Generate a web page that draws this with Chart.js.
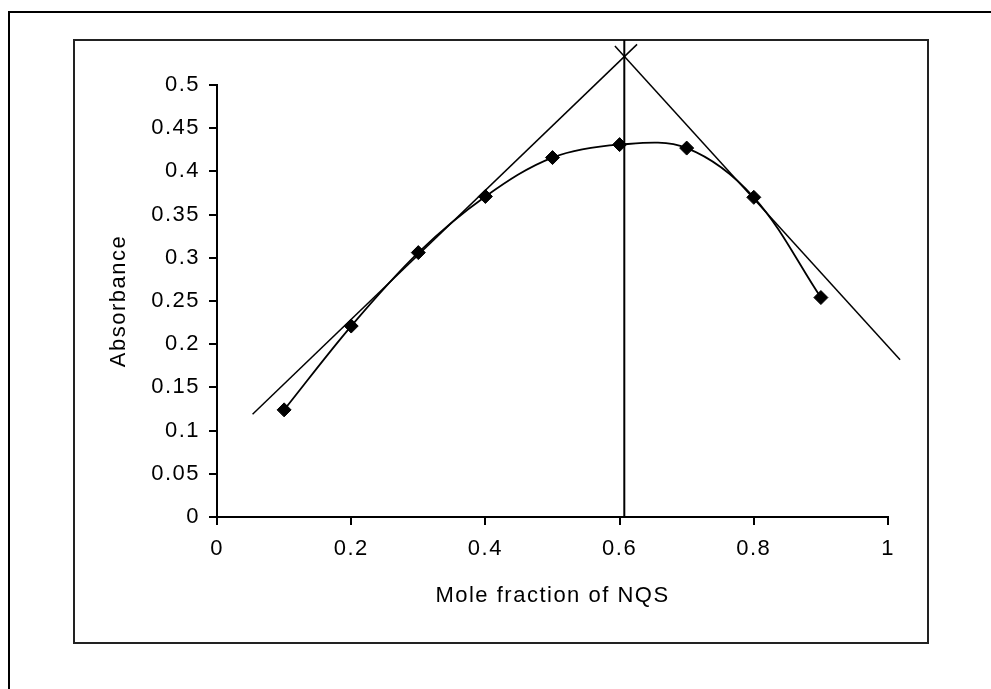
<!DOCTYPE html>
<html>
<head>
<meta charset="utf-8">
<style>
  html, body { margin: 0; padding: 0; background: #fff; }
  #wrap { position: absolute; left: 0; top: 0; width: 991px; height: 689px; }
</style>
<script src="https://cdn.jsdelivr.net/npm/chart.js@4/dist/chart.umd.min.js"></script>
</head>
<body>
<div id="wrap"><canvas id="c" width="991" height="689"></canvas></div>
<script>
// ---- data ----
const moleFraction = [0.1, 0.2, 0.3, 0.4, 0.5, 0.6, 0.7, 0.8, 0.9];
const absorbance   = [0.124, 0.221, 0.306, 0.371, 0.416, 0.431, 0.427, 0.370, 0.254];

// tangent lines (end points) and vertical line at the intersection
const tangentLeftX  = [0.053, 0.626];
const tangentLeftY  = [0.119, 0.547];
const tangentRightX = [0.593, 1.018];
const tangentRightY = [0.545, 0.182];
const verticalX = [0.607, 0.607];
const verticalY = [0, 0.552];

const xTicks = [0, 0.2, 0.4, 0.6, 0.8, 1];
const xTickLabels = ['0', '0.2', '0.4', '0.6', '0.8', '1'];
const yTicks = [0, 0.05, 0.1, 0.15, 0.2, 0.25, 0.3, 0.35, 0.4, 0.45, 0.5];
const yTickLabels = ['0', '0.05', '0.1', '0.15', '0.2', '0.25', '0.3', '0.35', '0.4', '0.45', '0.5'];

const xTitle = 'Mole fraction of NQS';
const yTitle = 'Absorbance';

const pts = (xs, ys) => xs.map((x, i) => ({x: x, y: ys[i]}));

const FONT = {family: '"Liberation Sans", Arial, sans-serif', size: 22};
const SPACING = '1.5px';

const framePlugin = {
  id: 'frame',
  beforeDraw(chart) {
    const ctx = chart.ctx;
    ctx.save();
    ctx.fillStyle = '#fff';
    ctx.fillRect(0, 0, chart.width, chart.height);
    // outer border (left + top visible)
    ctx.fillStyle = '#000';
    ctx.fillRect(8, 11, 2, chart.height);
    ctx.fillRect(8, 11, chart.width, 2);
    // inner chart box
    ctx.strokeStyle = '#222';
    ctx.lineWidth = 2;
    ctx.strokeRect(74, 40, 854, 603);
    ctx.restore();
    ctx.letterSpacing = SPACING;
  },
  beforeDatasetsDraw(chart) { chart.ctx.letterSpacing = '0px'; },
  afterDatasetsDraw(chart) { chart.ctx.letterSpacing = SPACING; }
};

new Chart(document.getElementById('c'), {
  type: 'line',
  data: {
    datasets: [
      {
        label: 'Absorbance',
        data: pts(moleFraction, absorbance),
        borderColor: '#000',
        borderWidth: 1.8,
        backgroundColor: '#000',
        pointStyle: 'rectRot',
        pointRadius: 7,
        pointBorderWidth: 1,
        pointBorderColor: '#000',
        pointBackgroundColor: '#000',
        tension: 0.35,
        fill: false,
        clip: false
      },
      {
        label: 'Tangent 1',
        data: pts(tangentLeftX, tangentLeftY),
        borderColor: '#000',
        borderWidth: 1.5,
        pointRadius: 0,
        tension: 0,
        clip: false
      },
      {
        label: 'Tangent 2',
        data: pts(tangentRightX, tangentRightY),
        borderColor: '#000',
        borderWidth: 1.5,
        pointRadius: 0,
        tension: 0,
        clip: false
      },
      {
        label: 'Intersection',
        data: pts(verticalX, verticalY),
        borderColor: '#000',
        borderWidth: 2,
        pointRadius: 0,
        tension: 0,
        clip: false
      }
    ]
  },
  options: {
    responsive: false,
    animation: false,
    devicePixelRatio: 1,
    layout: { padding: { left: 95, right: 103, top: 85, bottom: 72 } },
    plugins: {
      legend: { display: false },
      tooltip: { enabled: false },
      title: { display: false }
    },
    scales: {
      x: {
        type: 'linear',
        min: 0, max: 1,
        afterBuildTicks: (s) => { s.ticks = xTicks.map(v => ({value: v})); },
        afterFit: (s) => { s.height = 100; },
        ticks: {
          autoSkip: false,
          maxRotation: 0,
          color: '#000',
          font: FONT,
          padding: 11,
          callback: (v, i) => xTickLabels[i]
        },
        grid: { drawOnChartArea: false, drawTicks: true, tickLength: 8, color: '#000', lineWidth: 2 },
        border: { display: true, color: '#000', width: 2 },
        title: { display: true, text: xTitle, color: '#000', font: FONT, padding: { top: 0, bottom: 8 } }
      },
      y: {
        type: 'linear',
        min: 0, max: 0.5,
        afterBuildTicks: (s) => { s.ticks = yTicks.map(v => ({value: v})); },
        afterFit: (s) => { s.width = 122; },
        ticks: {
          autoSkip: false,
          color: '#000',
          font: FONT,
          padding: 9,
          callback: (v, i) => yTickLabels[i]
        },
        grid: { drawOnChartArea: false, drawTicks: true, tickLength: 8, color: '#000', lineWidth: 2 },
        border: { display: true, color: '#000', width: 2 },
        title: { display: true, text: yTitle, color: '#000', font: FONT, padding: { top: 11, bottom: 0 } }
      }
    }
  },
  plugins: [framePlugin]
});
</script>
</body>
</html>
